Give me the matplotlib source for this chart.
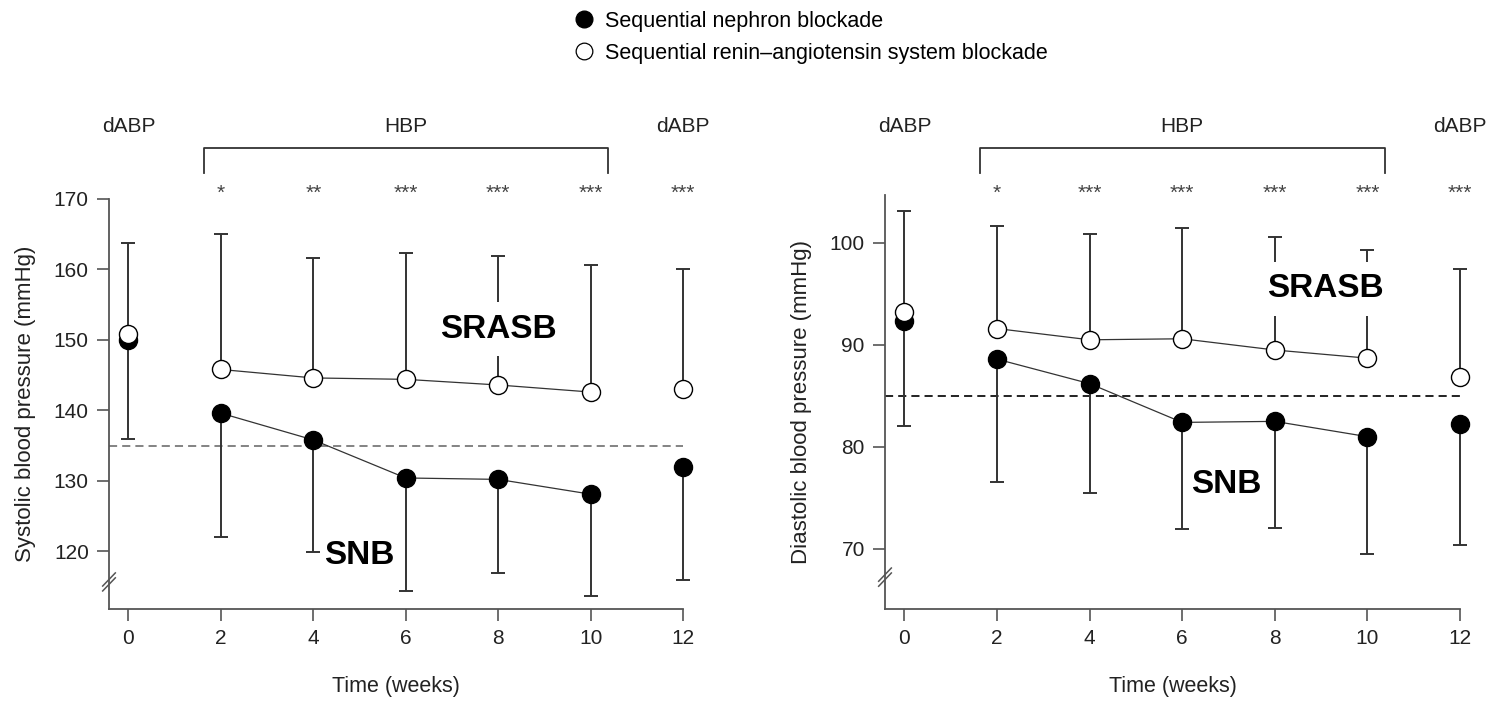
import matplotlib
matplotlib.use("Agg")
import matplotlib.pyplot as plt
from matplotlib.lines import Line2D
from matplotlib.transforms import blended_transform_factory
import numpy as np

plt.rcParams["font.family"] = ["Liberation Sans", "DejaVu Sans"]

# ---- data -------------------------------------------------------------
weeks = [0, 2, 4, 6, 8, 10, 12]

# Systolic BP (mmHg): mean and SD
sbp_snb = [150.0, 139.6, 135.8, 130.4, 130.2, 128.1, 131.9]
sbp_snb_sd = [14.1, 17.6, 15.9, 16.1, 13.3, 14.5, 16.0]
sbp_srasb = [150.8, 145.8, 144.6, 144.4, 143.6, 142.6, 143.0]
sbp_srasb_sd = [12.9, 19.2, 17.0, 17.9, 18.3, 18.0, 17.0]
sbp_target = 135
sbp_sig = ["*", "**", "***", "***", "***", "***"]

# Diastolic BP (mmHg): mean and SD
dbp_snb = [92.3, 88.6, 86.2, 82.4, 82.5, 81.0, 82.2]
dbp_snb_sd = [10.3, 12.0, 10.7, 10.5, 10.5, 11.5, 11.8]
dbp_srasb = [93.2, 91.6, 90.5, 90.6, 89.5, 88.7, 86.9]
dbp_srasb_sd = [9.9, 10.1, 10.4, 10.9, 11.1, 10.6, 10.5]
dbp_target = 85
dbp_sig = ["*", "***", "***", "***", "***", "***"]

sig_weeks = [2, 4, 6, 8, 10, 12]
period_labels = ["dABP", "HBP", "dABP"]
period_weeks = [0, 6, 12]

# ---- figure -----------------------------------------------------------
W, H = 1487, 701
fig = plt.figure(figsize=(W / 100, H / 100), dpi=100)


def px_rect(x0, x1, ytop, ybot):
    return [x0 / W, 1 - ybot / H, (x1 - x0) / W, (ybot - ytop) / H]


ax1 = fig.add_axes(px_rect(109, 683, 199, 609))
ax2 = fig.add_axes(px_rect(885, 1460, 195, 609))

ink = "#333333"
spine_c = "#555555"


def draw_panel(ax, snb, snb_sd, srasb, srasb_sd, target, sig, ylim, yticks,
               ylabel, tcolor, snb_pos, srasb_pos, break_y):
    x = np.array(weeks)
    snb = np.array(snb)
    srasb = np.array(srasb)
    z = np.zeros(len(x))

    ax.set_xlim(-0.42, 12.0)
    ax.set_ylim(*ylim)

    # target line
    ax.hlines(target, -0.42, 12, colors=tcolor, lw=1.3,
              linestyles=(0, (4.5, 2.8)), zorder=1)

    # error bars (SNB downward, SRASB upward)
    ax.errorbar(x, snb, yerr=[snb_sd, z], fmt="none", ecolor=ink,
                elinewidth=1.4, capsize=4.8, capthick=1.4, zorder=2,
                clip_on=False)
    ax.errorbar(x, srasb, yerr=[z, srasb_sd], fmt="none", ecolor=ink,
                elinewidth=1.4, capsize=4.8, capthick=1.4, zorder=2,
                clip_on=False)

    # connecting lines over the HBP period
    ax.plot(x[1:6], snb[1:6], color=ink, lw=0.9, zorder=3)
    ax.plot(x[1:6], srasb[1:6], color=ink, lw=0.9, zorder=3)

    ax.plot(x, snb, "o", ms=13, color="black", zorder=4, clip_on=False)
    ax.plot(x, srasb, "o", ms=13, mfc="white", mec="black", mew=1.0,
            zorder=5, clip_on=False)

    # group labels
    ax.text(*srasb_pos, "SRASB", fontsize=24, fontweight="bold",
            ha="center", va="center", zorder=6,
            bbox=dict(boxstyle="square,pad=0.35", fc="white", ec="none"))
    ax.text(*snb_pos, "SNB", fontsize=24, fontweight="bold",
            ha="center", va="center", zorder=6,
            bbox=dict(boxstyle="square,pad=0.1", fc="white", ec="none"))

    # axes styling
    for s in ("top", "right"):
        ax.spines[s].set_visible(False)
    for s in ("left", "bottom"):
        ax.spines[s].set_color(spine_c)
        ax.spines[s].set_linewidth(1.3)
    ax.spines["bottom"].set_bounds(-0.42, 12)
    ax.set_xticks(weeks)
    ax.set_yticks(yticks)
    ax.tick_params(direction="out", length=8.5, width=1.2, color=spine_c,
                   labelsize=15, pad=6, labelcolor="#222222")
    ax.set_xlabel("Time (weeks)", fontsize=15.5, labelpad=20, color="#222222")
    ax.set_ylabel(ylabel, fontsize=16, labelpad=13, color="#222222")

    # axis break marks
    dx, dy = 0.011, 0.016
    for off in (-0.006, 0.006):
        ax.plot([-dx, dx], [break_y + off - dy, break_y + off + dy],
                transform=ax.transAxes, color=spine_c, lw=1.1,
                clip_on=False, zorder=7)

    # period labels, bracket and significance stars above the axes
    tr = blended_transform_factory(ax.transData, fig.transFigure)
    for lab, wk in zip(period_labels, period_weeks):
        ax.text(wk, 1 - 126 / H, lab, transform=tr, fontsize=15,
                ha="center", va="center", color="#222222")
    yb_top, yb_low = 1 - 148 / H, 1 - 173 / H
    ax.plot([1.64, 1.64, 10.37, 10.37], [yb_low, yb_top, yb_top, yb_low],
            transform=tr, color=ink, lw=1.3, clip_on=False)
    for wk, s in zip(sig_weeks, sig):
        ax.text(wk, 1 - 193 / H, s, transform=tr, fontsize=15,
                ha="center", va="center", color="#444444")


draw_panel(ax1, sbp_snb, sbp_snb_sd, sbp_srasb, sbp_srasb_sd, sbp_target,
           sbp_sig, (111.8, 170), [120, 130, 140, 150, 160, 170],
           "Systolic blood pressure (mmHg)", "#7a7a7a",
           (5.0, 119.4), (8.0, 151.5), 0.066)
draw_panel(ax2, dbp_snb, dbp_snb_sd, dbp_srasb, dbp_srasb_sd, dbp_target,
           dbp_sig, (64.1, 104.7), [70, 80, 90, 100],
           "Diastolic blood pressure (mmHg)", "#111111",
           (6.96, 76.3), (9.1, 95.5), 0.077)

# legend
handles = [
    Line2D([], [], ls="none", marker="o", ms=12, color="black"),
    Line2D([], [], ls="none", marker="o", ms=12, mfc="white", mec="black",
           mew=0.9),
]
labels = ["Sequential nephron blockade",
          "Sequential renin\u2013angiotensin system blockade"]
fig.legend(handles, labels, loc="upper left",
           bbox_to_anchor=(575 / W, 1 - 11 / H), frameon=False, fontsize=15.5,
           handlelength=0.8, handletextpad=0.6, labelspacing=0.5,
           borderpad=0, borderaxespad=0)

fig.savefig("out.png", dpi=100)
